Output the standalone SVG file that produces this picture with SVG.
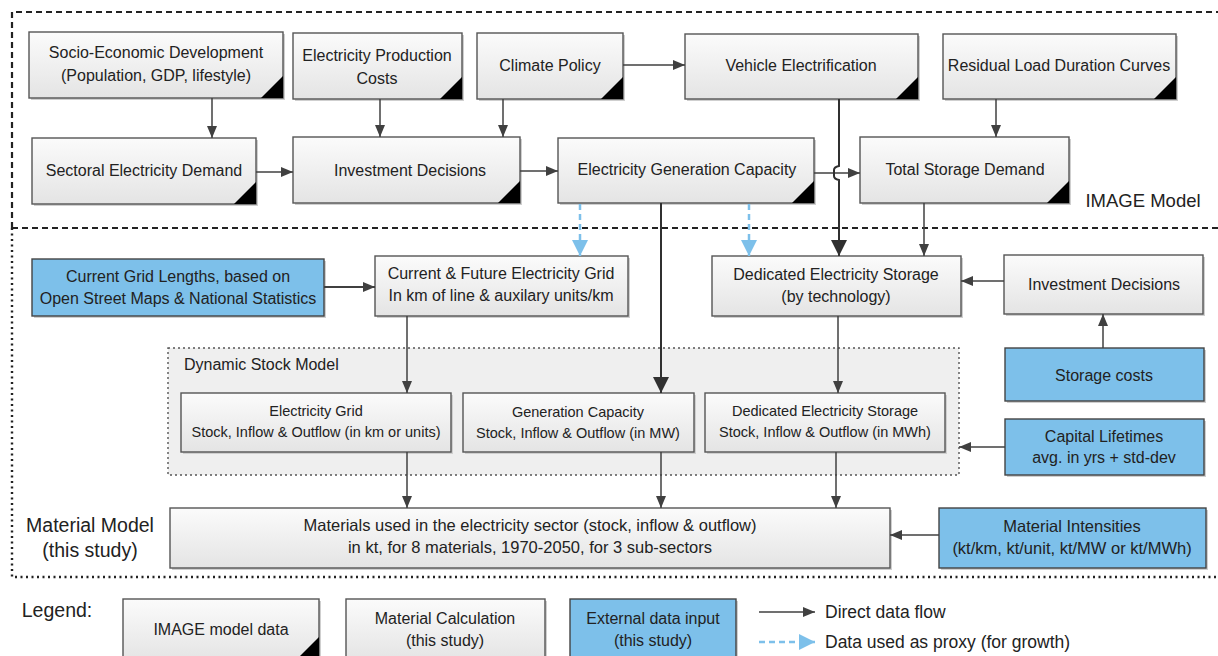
<svg xmlns="http://www.w3.org/2000/svg" width="1218" height="656" viewBox="0 0 1218 656">
<defs>
<linearGradient id="g" x1="0" y1="0" x2="0" y2="1"><stop offset="0" stop-color="#fbfbfb"/><stop offset="1" stop-color="#e4e4e4"/></linearGradient>
<marker id="arr" markerUnits="userSpaceOnUse" markerWidth="12" markerHeight="10" refX="12" refY="5" orient="auto"><path d="M0,0 L12,5 L0,10 z" fill="#404040"/></marker>
<marker id="arrL" markerUnits="userSpaceOnUse" markerWidth="16" markerHeight="16" refX="16" refY="8" orient="auto"><path d="M0,0 L16,8 L0,16 z" fill="#303030"/></marker>
<marker id="arrB" markerUnits="userSpaceOnUse" markerWidth="16" markerHeight="16" refX="16" refY="8" orient="auto"><path d="M0,0 L16,8 L0,16 z" fill="#7dc0ea"/></marker>
</defs>
<style>
.n{fill:url(#g);stroke:#555;stroke-width:1.4}
.b{fill:#7dc0ea;stroke:#444;stroke-width:1.4}
.s{fill:#cfcfcf}
.t{fill:#000}
text{font-family:"Liberation Sans",Arial,sans-serif;font-size:16px;fill:#222;text-anchor:middle}
.sm{font-size:14.5px}
.lg{font-size:19.5px}
.c{fill:none;stroke:#404040;stroke-width:1.5;marker-end:url(#arr)}
.cl{fill:none;stroke:#303030;stroke-width:2;marker-end:url(#arrL)}
.cb{fill:none;stroke:#7dc0ea;stroke-width:2.5;stroke-dasharray:6,4;marker-end:url(#arrB)}
.frame{fill:none;stroke:#222;stroke-width:2.2;stroke-dasharray:6,4}
.dot{fill:none;stroke:#222;stroke-width:2.4;stroke-dasharray:2,3.5}
</style>

<g id="frames">
<path class="frame" d="M12,228 V12 H1218"/>
<path class="frame" d="M12,228 H1218"/>
<path class="dot" d="M12,228 V577 H1218"/>
<text class="lg" x="1143" y="207" style="font-size:18.5px">IMAGE Model</text>
<text class="lg" x="90" y="532">Material Model</text>
<text class="lg" x="90" y="557">(this study)</text>
</g>

<g id="dsm">
<rect x="168" y="348" width="791" height="127" fill="#efefef" stroke="#555" stroke-width="1.4" stroke-dasharray="2,3"/>
<text x="184" y="370" style="text-anchor:start">Dynamic Stock Model</text>
</g>

<g id="n-socio"><rect class="s" x="31" y="34" width="254" height="66"/><rect class="n" x="29" y="32" width="254" height="66"/><path class="t" d="M283,76 V98 H261 z"/><text x="156" y="58">Socio-Economic Development</text><text x="156" y="81">(Population, GDP, lifestyle)</text></g>
<g id="n-prodcost"><rect class="s" x="295" y="35" width="169" height="66"/><rect class="n" x="293" y="33" width="169" height="66"/><path class="t" d="M462,77 V99 H440 z"/><text x="377" y="61">Electricity Production</text><text x="377" y="84">Costs</text></g>
<g id="n-climate"><rect class="s" x="479" y="35" width="146" height="66"/><rect class="n" x="477" y="33" width="146" height="66"/><path class="t" d="M623,77 V99 H601 z"/><text x="550" y="71">Climate Policy</text></g>
<g id="n-vehicle"><rect class="s" x="687" y="36" width="233" height="65"/><rect class="n" x="685" y="34" width="233" height="65"/><path class="t" d="M918,77 V99 H896 z"/><text x="801" y="71">Vehicle Electrification</text></g>
<g id="n-rldc"><rect class="s" x="945" y="36" width="233" height="65"/><rect class="n" x="943" y="34" width="233" height="65"/><path class="t" d="M1176,77 V99 H1154 z"/><text x="1059" y="71">Residual Load Duration Curves</text></g>
<g id="n-sectoral"><rect class="s" x="34" y="140" width="224" height="66"/><rect class="n" x="32" y="138" width="224" height="66"/><path class="t" d="M256,182 V204 H234 z"/><text x="144" y="176">Sectoral Electricity Demand</text></g>
<g id="n-invest"><rect class="s" x="295" y="139" width="227" height="66"/><rect class="n" x="293" y="137" width="227" height="66"/><path class="t" d="M520,181 V203 H498 z"/><text x="410" y="176">Investment Decisions</text></g>
<g id="n-gencap"><rect class="s" x="560" y="140" width="256" height="65"/><rect class="n" x="558" y="138" width="256" height="65"/><path class="t" d="M814,181 V203 H792 z"/><text x="687" y="175">Electricity Generation Capacity</text></g>
<g id="n-totstor"><rect class="s" x="862" y="139" width="209" height="66"/><rect class="n" x="860" y="137" width="209" height="66"/><path class="t" d="M1069,181 V203 H1047 z"/><text x="965" y="175">Total Storage Demand</text></g>

<g id="n-gridlen"><rect class="s" x="34" y="261" width="292" height="57"/><rect class="b" x="32" y="259" width="292" height="57"/><text x="178" y="282">Current Grid Lengths, based on</text><text x="178" y="304">Open Street Maps &amp; National Statistics</text></g>
<g id="n-grid"><rect class="s" x="377" y="258" width="253" height="60"/><rect class="n" x="375" y="256" width="253" height="60"/><text x="501" y="279">Current &amp; Future Electricity Grid</text><text x="501" y="301">In km of line &amp; auxilary units/km</text></g>
<g id="n-dedstor"><rect class="s" x="714" y="258" width="249" height="60"/><rect class="n" x="712" y="256" width="249" height="60"/><text x="836" y="280">Dedicated Electricity Storage</text><text x="836" y="302">(by technology)</text></g>
<g id="n-invest2"><rect class="s" x="1006" y="257" width="199" height="59"/><rect class="n" x="1004" y="255" width="199" height="59"/><text x="1104" y="290">Investment Decisions</text></g>
<g id="n-storcost"><rect class="s" x="1007" y="350" width="199" height="53"/><rect class="b" x="1005" y="348" width="199" height="53"/><text x="1104" y="381">Storage costs</text></g>
<g id="n-lifetimes"><rect class="s" x="1007" y="421" width="199" height="56"/><rect class="b" x="1005" y="419" width="199" height="56"/><text x="1104" y="442">Capital Lifetimes</text><text x="1104" y="463">avg. in yrs + std-dev</text></g>

<g id="n-gridstock"><rect class="s" x="183" y="395" width="270" height="59"/><rect class="n" x="181" y="393" width="270" height="59"/><text class="sm" x="316" y="416">Electricity Grid</text><text class="sm" x="316" y="437">Stock, Inflow &amp; Outflow (in km or units)</text></g>
<g id="n-genstock"><rect class="s" x="465" y="395" width="231" height="59"/><rect class="n" x="463" y="393" width="231" height="59"/><text class="sm" x="578" y="417">Generation Capacity</text><text class="sm" x="578" y="438">Stock, Inflow &amp; Outflow (in MW)</text></g>
<g id="n-storstock"><rect class="s" x="707" y="395" width="240" height="59"/><rect class="n" x="705" y="393" width="240" height="59"/><text class="sm" x="825" y="416">Dedicated Electricity Storage</text><text class="sm" x="825" y="437">Stock, Inflow &amp; Outflow (in MWh)</text></g>

<g id="n-materials"><rect class="s" x="172" y="510" width="720" height="60"/><rect class="n" x="170" y="508" width="720" height="60"/><text x="530" y="531" style="font-size:16.5px">Materials used in the electricity sector (stock, inflow &amp; outflow)</text><text x="530" y="553" style="font-size:16.5px">in kt, for 8 materials, 1970-2050, for 3 sub-sectors</text></g>
<g id="n-intens"><rect class="s" x="941" y="510" width="267" height="60"/><rect class="b" x="939" y="508" width="267" height="60"/><text x="1072" y="532" style="font-size:16.5px">Material Intensities</text><text x="1072" y="554" style="font-size:16.5px">(kt/km, kt/unit, kt/MW or kt/MWh)</text></g>

<g id="legend">
<text class="lg" x="57" y="617">Legend:</text>
<rect class="s" x="125" y="601" width="196" height="62"/><rect class="n" x="123" y="599" width="196" height="62"/><path class="t" d="M319,637 V661 H295 z"/><text x="221" y="635">IMAGE model data</text>
<rect class="s" x="348" y="601" width="199" height="62"/><rect class="n" x="346" y="599" width="199" height="62"/><text x="445" y="624">Material Calculation</text><text x="445" y="646">(this study)</text>
<rect class="s" x="572" y="601" width="166" height="62"/><rect class="b" x="570" y="599" width="166" height="62"/><text x="653" y="624">External data input</text><text x="653" y="646">(this study)</text>
<path class="c" d="M759,612 H815"/>
<text x="825" y="618" style="text-anchor:start;font-size:17.5px">Direct data flow</text>
<path class="cb" d="M759,642 H815"/>
<text x="825" y="648" style="text-anchor:start;font-size:17.5px">Data used as proxy (for growth)</text>
</g>

<g id="connectors">
<path class="c" d="M212,98 V138"/>
<path class="c" d="M380,99 V137"/>
<path class="c" d="M503,99 V137"/>
<path class="c" d="M623,65 H685"/>
<path class="c" d="M256,172 H293"/>
<path class="c" d="M520,171 H558"/>
<path class="c" d="M814,173 H860"/>
<path class="c" d="M996,99 V137"/>
<path class="cl" d="M839,99 V166 Q834,167 834,170 V176 Q834,179 839,180 V256"/>
<path class="c" d="M924,203 V256"/>
<path class="cl" d="M661,203 V393"/>
<path class="cb" d="M580,204 V256"/>
<path class="cb" d="M749,204 V256"/>
<path class="c" style="stroke-width:2" d="M324,287 H375"/>
<path class="c" d="M407,316 V393"/>
<path class="c" d="M838,316 V393"/>
<path class="c" d="M1004,281 H961"/>
<path class="c" d="M1103,348 V314"/>
<path class="c" d="M407,452 V508"/>
<path class="c" d="M661,452 V508"/>
<path class="c" d="M836,452 V508"/>
<path class="c" d="M1005,447 H959"/>
<path class="c" d="M939,535 H890"/>
</g>
</svg>
